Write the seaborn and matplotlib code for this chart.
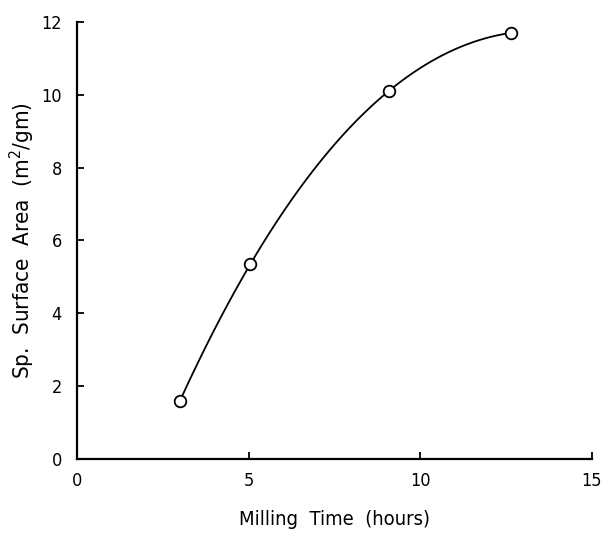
import matplotlib
matplotlib.use("Agg")
import matplotlib.pyplot as plt
import seaborn as sns
import numpy as np
import pandas as pd

milling_time = [3.0, 5.05, 9.08, 12.65]
surface_area = [1.6, 5.35, 10.1, 11.7]
x_ticks = [0, 5, 10, 15]
y_ticks = [0, 2, 4, 6, 8, 10, 12]

sns.set_theme(style="white")
plt.rcParams['font.family'] = ['DejaVu Sans']
plt.rcParams['font.stretch'] = 'condensed'
plt.rcParams['text.color'] = 'black'
plt.rcParams['axes.labelcolor'] = 'black'
plt.rcParams['xtick.color'] = 'black'
plt.rcParams['ytick.color'] = 'black'

df = pd.DataFrame({"t": milling_time, "a": surface_area})

fig = plt.figure(figsize=(6.02, 5.35), dpi=100)
ax = fig.add_axes([0.128, 0.142, 0.855, 0.817])

sns.regplot(data=df, x="t", y="a", order=3, ci=None, ax=ax,
            scatter_kws=dict(s=70, facecolors="white", edgecolors="black", linewidths=1.3, alpha=1, zorder=3),
            line_kws=dict(color="black", linewidth=1.3))

ax.set_xlim(0, 15)
ax.set_ylim(0, 12)
ax.set_xticks(x_ticks)
ax.set_yticks(y_ticks)
ax.set_xticklabels([str(v) for v in x_ticks], fontsize=13, fontstretch='condensed')
ax.set_yticklabels([str(v) for v in y_ticks], fontsize=13, fontstretch='condensed')
ax.tick_params(bottom=True, left=True, direction="in", length=5, width=1.3, color="black")
ax.tick_params(axis="y", pad=11)
ax.tick_params(axis="x", pad=9)
for s in ["top", "right"]:
    ax.spines[s].set_visible(False)
for s in ["left", "bottom"]:
    ax.spines[s].set_color("black")
    ax.spines[s].set_linewidth(1.6)

ax.set_xlabel("Milling  Time  (hours)", fontsize=14.5, labelpad=15, fontstretch='condensed')
ax.set_ylabel("Sp.  Surface  Area  (m$^2$/gm)", fontsize=16, labelpad=3, fontstretch='condensed')

fig.savefig("out.png", dpi=100, facecolor="white")
